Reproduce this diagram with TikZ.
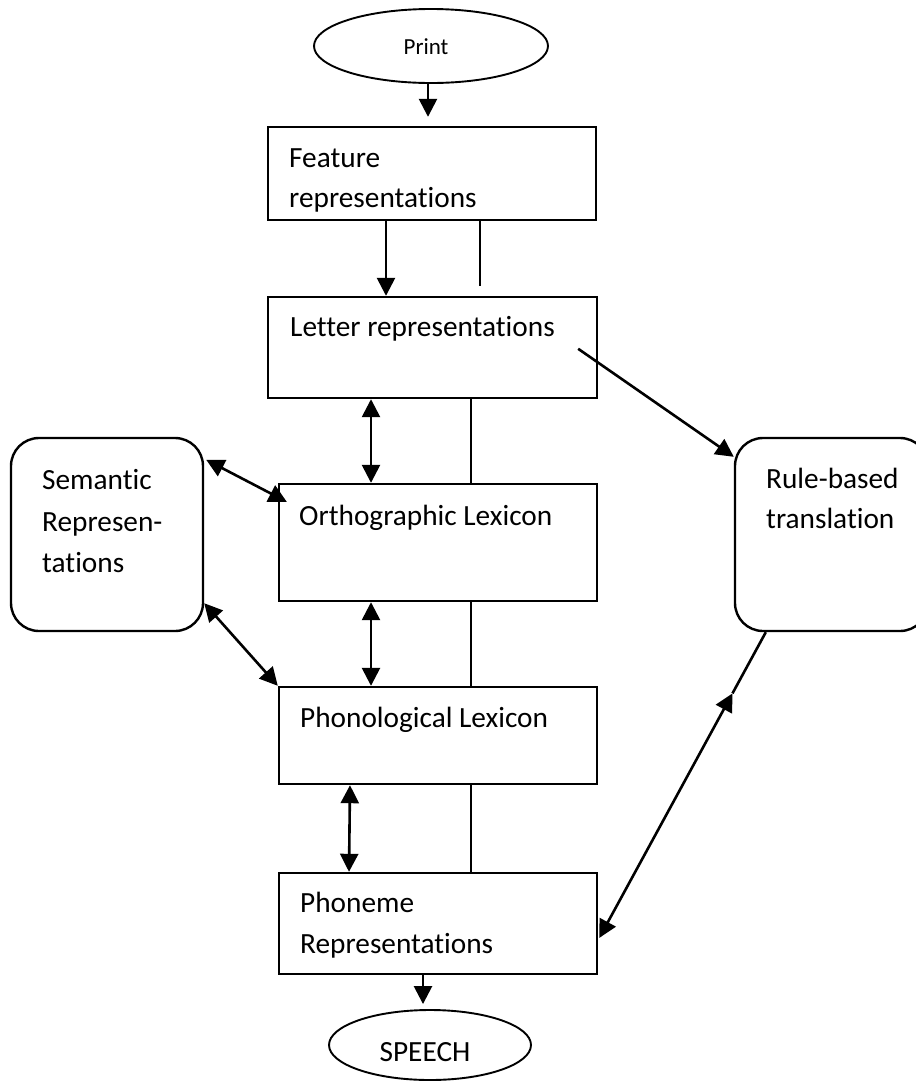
\documentclass[tikz,border=0pt]{standalone}
\usepackage{fontspec}
\setmainfont{Carlito}[Ligatures={NoCommon}]
\usetikzlibrary{arrows.meta,calc,shapes.geometric}
\begin{document}
\begin{tikzpicture}[x=1pt,y=-1pt,
  boxnode/.style={draw,line width=2.4pt,inner sep=0pt},
  roundnode/.style={draw,line width=2.4pt,inner sep=0pt,rounded corners=28pt},
  ovalnode/.style={draw,ellipse,line width=1.9pt,inner sep=0pt},
  txt/.style={anchor=base west,inner sep=0pt,font=\fontsize{29.3}{35}\selectfont},
  arr/.style={line width=2.6pt,-{Triangle[length=18pt,width=18pt]}},
  darr/.style={line width=2.6pt,{Triangle[length=18pt,width=18pt]}-{Triangle[length=18pt,width=18pt]}},
  plain/.style={line width=1.9pt}]
\useasboundingbox (0,0) rectangle (916,1085);
\clip (0,0) rectangle (916,1085);
\fill[white] (0,0) rectangle (916,1085);

% boxes
\node[ovalnode,minimum width=234pt,minimum height=74pt] (print) at (431,46) {};
\node[boxnode,minimum width=328pt,minimum height=93pt] (feat) at (432,173.5) {};
\node[boxnode,minimum width=329pt,minimum height=101pt] (letter) at (432.5,347.5) {};
\node[boxnode,minimum width=318pt,minimum height=117pt] (ortho) at (438,542.5) {};
\node[boxnode,minimum width=318pt,minimum height=97pt] (phono) at (438,735.5) {};
\node[boxnode,minimum width=318pt,minimum height=101pt] (phon) at (438,923.5) {};
\node[roundnode,minimum width=192pt,minimum height=193pt] (sem) at (107,534.5) {};
\node[roundnode,minimum width=193pt,minimum height=193pt] (rule) at (831.5,534.5) {};
\node[ovalnode,minimum width=202pt,minimum height=70pt] (speech) at (430,1045) {};

% texts
\node[anchor=base,inner sep=0pt,font=\fontsize{23}{28}\selectfont] (tprint) at (426,54) {Print};
\node[txt] (tfeat1) at (289,167) {Feature};
\node[txt] (tfeat2) at (289,207) {representations};
\node[txt] (tletter) at (290,336) {Letter representations};
\node[txt] (tortho) at (299,525) {Orthographic Lexicon};
\node[txt] (tphono) at (300,727) {Phonological Lexicon};
\node[txt] (tphon1) at (300,912) {Phoneme};
\node[txt] (tphon2) at (300,953) {Representations};
\node[txt] (tsem1) at (42,489) {Semantic};
\node[txt] (tsem2) at (42,531) {Represen-};
\node[txt] (tsem3) at (42,572) {tations};
\node[txt] (trule1) at (766,488) {Rule-based};
\node[txt] (trule2) at (766,528) {translation};
\node[anchor=base,inner sep=0pt,font=\fontsize{29.3}{35}\selectfont] (tspeech) at (425,1061) {SPEECH};

% connectors
\draw[arr] ([xshift=-3pt]print.south) -- ([xshift=-4pt,yshift=9pt]feat.north);
\draw[arr] ([xshift=-46pt]feat.south) -- ([xshift=-46.5pt]letter.north);
\draw[plain] ([xshift=48pt]feat.south) -- ([xshift=47.5pt,yshift=10pt]letter.north);
\draw[arr] ([xshift=-20pt,yshift=-53pt]letter.north east) -- ([yshift=-20pt]rule.north west);
\draw[darr] ([xshift=-61.5pt]letter.south) -- ([xshift=-67pt]ortho.north);
\draw[plain] ([xshift=38.5pt]letter.south) -- ([xshift=33pt]ortho.north);
\draw[darr] ([xshift=2pt,yshift=-23pt]sem.north east) -- ([xshift=9pt,yshift=-19pt]ortho.north west);
\draw[darr] ([yshift=29pt]sem.south east) -- (phono.north west);
\draw[darr] ([xshift=-67pt]ortho.south) -- ([xshift=-67pt]phono.north);
\draw[plain] ([xshift=33pt]ortho.south) -- ([xshift=33pt]phono.north);
\draw[darr] ([xshift=-88pt]phono.south) -- ([xshift=-89pt]phon.north);
\draw[plain] ([xshift=33pt]phono.south) -- ([xshift=33pt]phon.north);
\coordinate (rb) at ([xshift=32pt]rule.south west);
\coordinate (pe) at ([xshift=1pt,yshift=-14.5pt]phon.east);
\coordinate (mid) at ($(rb)!0.2!(pe)$);
\draw[line width=2.6pt] (rb) -- (mid);
\draw[darr] (mid) -- (pe);
\draw[arr] ([xshift=-15pt]phon.south) -- ([xshift=-7pt,yshift=5pt]speech.north);
\end{tikzpicture}
\end{document}
